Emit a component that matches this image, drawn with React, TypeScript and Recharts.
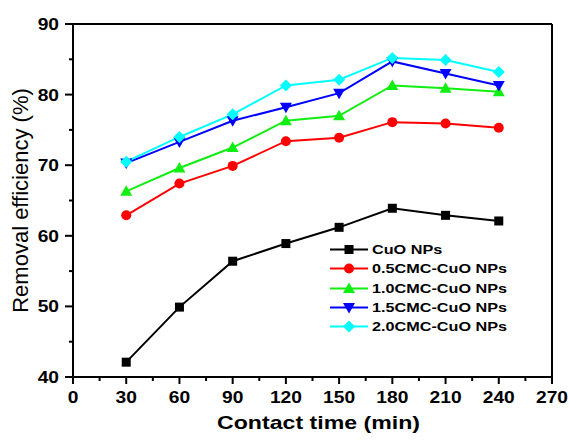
import { LineChart, Line, XAxis, YAxis, ReferenceLine } from 'recharts';

const times = [30, 60, 90, 120, 150, 180, 210, 240];

const cuo = [42.1, 49.9, 56.4, 58.9, 61.2, 63.9, 62.9, 62.1];
const cmc05 = [62.9, 67.4, 69.9, 73.4, 73.9, 76.1, 75.9, 75.3];
const cmc10 = [66.3, 69.6, 72.5, 76.3, 77.0, 81.3, 80.9, 80.4];
const cmc15 = [70.3, 73.3, 76.3, 78.2, 80.2, 84.7, 83.0, 81.3];
const cmc20 = [70.5, 74.0, 77.2, 81.3, 82.1, 85.2, 84.9, 83.2];

const xTicks = [0, 15, 30, 45, 60, 75, 90, 105, 120, 135, 150, 165, 180, 195, 210, 225, 240, 255, 270];
const yTicks = [40, 45, 50, 55, 60, 65, 70, 75, 80, 85, 90];

const series = [
    { key: 'cuo', name: 'CuO NPs', color: '#000000', shape: 'square', values: cuo },
    { key: 'cmc05', name: '0.5CMC-CuO NPs', color: '#ff0000', shape: 'circle', values: cmc05 },
    { key: 'cmc10', name: '1.0CMC-CuO NPs', color: '#11ee11', shape: 'up', values: cmc10 },
    { key: 'cmc15', name: '1.5CMC-CuO NPs', color: '#0000ff', shape: 'down', values: cmc15 },
    { key: 'cmc20', name: '2.0CMC-CuO NPs', color: '#00ffff', shape: 'diamond', values: cmc20 },
];

const data = times.map((t, i) => {
    const row: any = { time: t };
    series.forEach((s) => { row[s.key] = s.values[i]; });
    return row;
});

const FONT = 'Liberation Sans, Arial, sans-serif';

function marker(shape: string, cx: number, cy: number, color: string, key?: any) {
    switch (shape) {
        case 'square':
            return <rect key={key} x={cx - 4.5} y={cy - 4.5} width={9} height={9} fill={color} />;
        case 'circle':
            return <circle key={key} cx={cx} cy={cy} r={5} fill={color} />;
        case 'up':
            return <polygon key={key} points={`${cx},${cy - 6} ${cx - 6},${cy + 4.5} ${cx + 6},${cy + 4.5}`} fill={color} />;
        case 'down':
            return <polygon key={key} points={`${cx},${cy + 6} ${cx - 6},${cy - 4.5} ${cx + 6},${cy - 4.5}`} fill={color} />;
        default:
            return <polygon key={key} points={`${cx},${cy - 6} ${cx + 6},${cy} ${cx},${cy + 6} ${cx - 6},${cy}`} fill={color} />;
    }
}

const XTick = (props: any) => {
    const { x, y, payload } = props;
    const major = payload.value % 30 === 0;
    return (
        <g>
            <line x1={x} y1={y} x2={x} y2={y + (major ? 7 : 4)} stroke="#000" strokeWidth={2} />
            {major && (
                <text transform={`translate(${x},${y + 26}) scale(1.2,1)`} textAnchor="middle"
                    fontSize={16} fontWeight="bold" fontFamily={FONT} fill="#000">
                    {payload.value}
                </text>
            )}
        </g>
    );
};

const YTick = (props: any) => {
    const { x, y, payload } = props;
    const major = payload.value % 10 === 0;
    return (
        <g>
            <line x1={x} y1={y} x2={x - (major ? 8 : 4)} y2={y} stroke="#000" strokeWidth={2} />
            {major && (
                <text transform={`translate(${x - 14},${y + 6}) scale(1.2,1)`} textAnchor="end"
                    fontSize={16} fontWeight="bold" fontFamily={FONT} fill="#000">
                    {payload.value}
                </text>
            )}
        </g>
    );
};

const XTitle = (props: any) => {
    const vb = props.viewBox;
    return (
        <text transform={`translate(${vb.x + vb.width / 2 + 6},${vb.y + 52}) scale(1.25,1)`} textAnchor="middle"
            fontSize={18.5} fontWeight="bold" fontFamily={FONT} fill="#000">
            Contact time (min)
        </text>
    );
};

const YTitle = (props: any) => {
    const vb = props.viewBox;
    const cy = vb.y + vb.height / 2;
    return (
        <text transform={`translate(28,${cy}) rotate(-90)`} textAnchor="middle"
            fontSize={22} fontFamily={FONT} fill="#000">
            Removal efficiency (%)
        </text>
    );
};

export default function App() {
    return (
        <div style={{ position: 'absolute', left: 0, top: 0, width: 569, height: 441, background: '#fff' }}>
            <LineChart width={569} height={441} data={data} margin={{ top: 24, right: 17, left: 0, bottom: 0 }}>
                <XAxis dataKey="time" type="number" domain={[0, 270]} ticks={xTicks} interval={0}
                    height={64} tickSize={0} tickMargin={0} tickLine={false} tick={<XTick />}
                    axisLine={{ stroke: '#000', strokeWidth: 2 }} label={<XTitle />} />
                <YAxis type="number" domain={[40, 90]} ticks={yTicks} interval={0}
                    width={73} tickSize={0} tickMargin={0} tickLine={false} tick={<YTick />}
                    axisLine={{ stroke: '#000', strokeWidth: 2 }} label={<YTitle />} />
                <ReferenceLine y={90} stroke="#000" strokeWidth={2} />
                <ReferenceLine x={270} stroke="#000" strokeWidth={2} />
                {series.map((s) => (
                    <Line key={s.key} dataKey={s.key} name={s.name} stroke={s.color} strokeWidth={2}
                        isAnimationActive={false}
                        dot={(p: any) => marker(s.shape, p.cx, p.cy, s.color, `${s.key}-${p.index}`)}
                        activeDot={false} />
                ))}
            </LineChart>
            <div style={{ position: 'absolute', left: 330, top: 240, fontFamily: FONT }}>
                {series.map((s) => (
                    <div key={s.key} style={{ display: 'flex', alignItems: 'center', height: 19.3 }}>
                        <svg width={40} height={19} style={{ display: 'block' }}>
                            <line x1={0} y1={9.5} x2={38} y2={9.5} stroke={s.color} strokeWidth={2} />
                            {marker(s.shape, 19, 9.5, s.color)}
                        </svg>
                        <span style={{
                            display: 'inline-block', marginLeft: 2, fontSize: 13.5, fontWeight: 'bold',
                            transform: 'scaleX(1.2)', transformOrigin: 'left center', whiteSpace: 'nowrap',
                        }}>
                            {s.name}
                        </span>
                    </div>
                ))}
            </div>
        </div>
    );
}
